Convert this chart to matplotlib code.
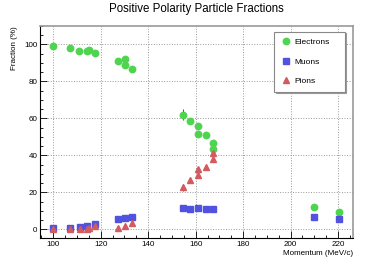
import matplotlib
matplotlib.use("Agg")
import matplotlib.pyplot as plt
from matplotlib.ticker import MultipleLocator

plt.rcParams['font.family'] = ['Liberation Sans', 'DejaVu Sans']

# momentum (MeV/c) and fractions (%)
e_p = [100, 107, 111, 114.3, 115.2, 117.6, 127.2, 130.2, 130.2, 133.1,
       154.7, 157.8, 161, 161, 164.3, 167.4, 167.4, 209.9, 220.2]
e_f = [99.1, 98, 96.4, 96.4, 97, 95.3, 91, 91.9, 88.8, 86.8,
       62, 58.4, 55.7, 51.7, 51.1, 46.5, 43.4, 11.9, 9.2]
e_err = [0.5, 0.5, 0.5, 0.5, 0.5, 0.5, 0.8, 0.8, 0.8, 0.8,
         3, 1.5, 1.5, 1.5, 1.2, 1.5, 1.5, 1, 1]

mu_p = [100, 107, 111.2, 114.3, 117.6, 127.4, 130.2, 133,
        154.7, 157.8, 161, 164.3, 167.4, 209.9, 220.2]
mu_f = [0.6, 0.8, 1.4, 2, 2.7, 5.4, 6.3, 6.6,
        11.3, 11, 11.5, 10.8, 11.1, 6.8, 5.7]

pi_p = [100, 107, 111.2, 114.3, 115.2, 117.6, 127.4, 130.2, 133,
        154.7, 157.8, 161, 161, 164.3, 167.4, 167.4]
pi_f = [0, 0, 0, 0, 0.5, 1.8, 0.7, 1.8, 3.6,
        22.7, 26.6, 29.3, 32.4, 33.5, 37.8, 41]
pi_err = [0.3, 0.3, 0.3, 0.3, 0.3, 0.5, 0.5, 0.5, 0.8,
          2, 1.2, 1.2, 1.2, 1, 1.2, 1.2]

fig = plt.figure(figsize=(3.92, 2.66), dpi=100)
ax = fig.add_axes([0.102, 0.104, 0.798, 0.799])

green = '#4fd44f'
blue = '#5252e0'
red = '#d35a5f'

# error bars first, markers on top
ax.errorbar(e_p, e_f, yerr=e_err, fmt='none', ecolor='#333333',
            elinewidth=0.6, capsize=0, zorder=2)
ax.errorbar(pi_p, pi_f, yerr=pi_err, fmt='none', ecolor='#333333',
            elinewidth=0.6, capsize=0, zorder=2)
ax.plot(e_p, e_f, 'o', color=green, ms=4.6, zorder=3, label='Electrons')
ax.plot(mu_p, mu_f, 's', color=blue, ms=4.6, zorder=3, label='Muons')
ax.plot(pi_p, pi_f, '^', color=red, ms=4.8, zorder=3, label='Pions')

ax.set_xlim(94.4, 226.2)
ax.set_ylim(-4.9, 110)
ax.xaxis.set_major_locator(MultipleLocator(20))
ax.xaxis.set_minor_locator(MultipleLocator(5))
ax.yaxis.set_major_locator(MultipleLocator(20))
ax.yaxis.set_minor_locator(MultipleLocator(5))
ax.tick_params(which='both', direction='in', top=False, right=False,
               labelsize=5.8, pad=2, width=0.6)
ax.tick_params(which='major', length=5)
ax.tick_params(which='minor', length=2.5)

ax.grid(True, which='major', linestyle=':', color='#999999', linewidth=0.7)

for s in ['top', 'right']:
    ax.spines[s].set_color('#999999')
    ax.spines[s].set_linewidth(1.2)
for s in ['left', 'bottom']:
    ax.spines[s].set_linewidth(0.8)

fig.text(0.5, 0.965, 'Positive Polarity Particle Fractions', ha='center',
         va='center', fontsize=8.3)
ax.set_xlabel('Momentum (MeV/c)', fontsize=5.8, loc='right', labelpad=1)
ax.set_ylabel('Fraction (%)', fontsize=5.8, loc='top', labelpad=4)

leg = ax.legend(loc='upper left', bbox_to_anchor=(0.749, 0.687, 0.226, 0.285),
                mode='expand', fontsize=6, frameon=True, fancybox=False,
                shadow={'ox': 1, 'oy': -1, 'color': '#999999', 'alpha': 1},
                borderpad=0.8, labelspacing=1.4, handletextpad=0.4,
                handlelength=1.2, borderaxespad=0)
leg.get_frame().set_edgecolor('#888888')
leg.get_frame().set_linewidth(0.8)

fig.savefig('out.png', dpi=100)
